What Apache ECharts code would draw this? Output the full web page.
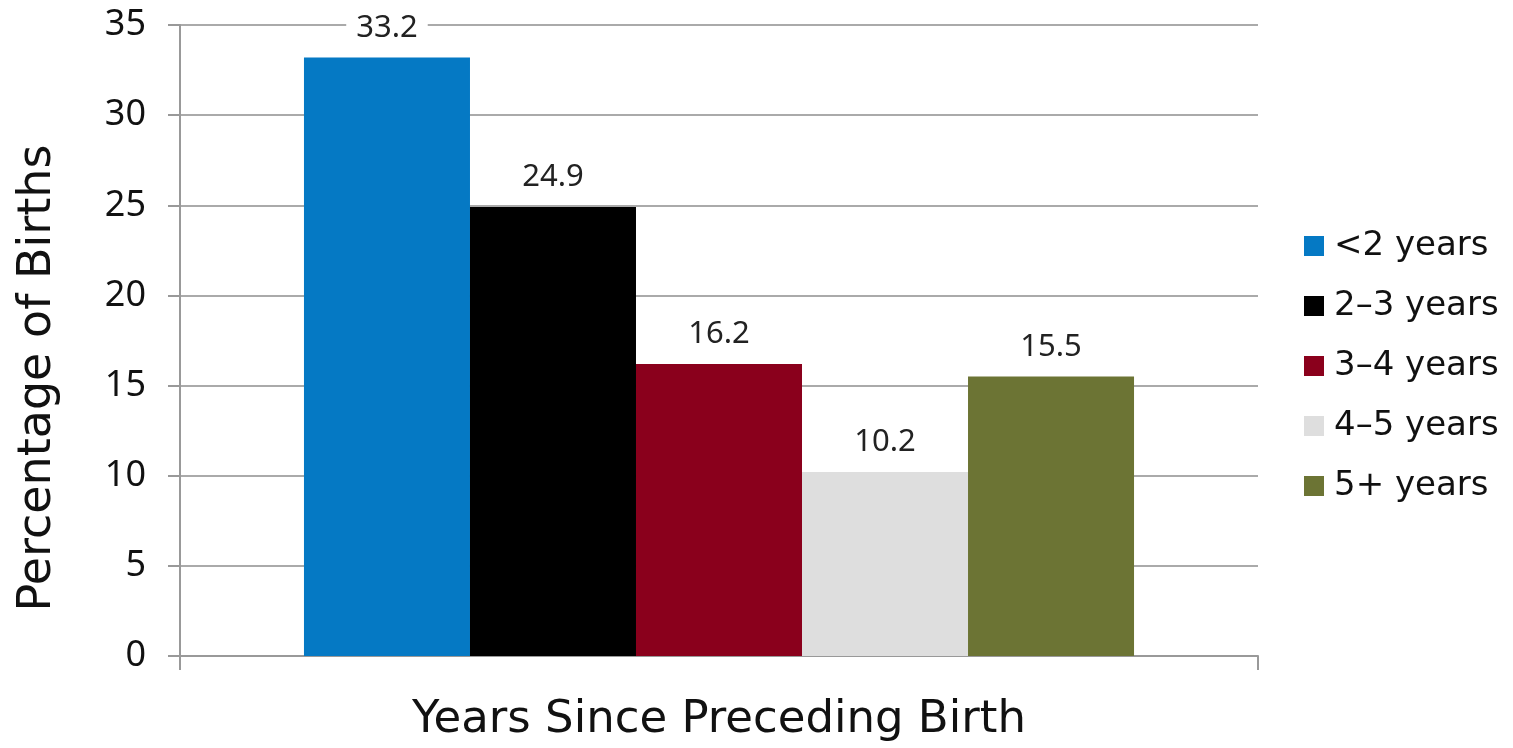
<!DOCTYPE html>
<html>
<head>
<meta charset="utf-8">
<script src="https://cdn.jsdelivr.net/npm/echarts@6/dist/echarts.min.js"></script>
<style>
html, body { margin: 0; padding: 0; background: #fff; }
#main { width: 1513px; height: 748px; }
</style>
</head>
<body>
<div id="main"></div>
<script>
var categories = ['Years Since Preceding Birth'];
var seriesNames = ['<2 years', '2\u20133 years', '3\u20134 years', '4\u20135 years', '5+ years'];
var seriesValues = [33.2, 24.9, 16.2, 10.2, 15.5];
var seriesColors = ['#0579C4', '#000000', '#8A001C', '#DEDEDE', '#6C7434'];

var myChart = echarts.init(document.getElementById('main'));

var series = seriesNames.map(function (name, i) {
	return {
		name: name,
		type: 'bar',
		data: [seriesValues[i]],
		barGap: '0%',
		barCategoryGap: '23%',
		itemStyle: { color: seriesColors[i] },
		label: {
			show: true,
			position: 'top',
			distance: 14,
			color: '#222',
			fontFamily: 'Noto Sans',
			fontSize: 31,
			backgroundColor: '#fff',
			padding: [0, 10]
		}
	};
});

var option = {
	backgroundColor: '#fff',
	animation: false,
	grid: { left: 180, right: 255, top: 25, bottom: 90 },
	legend: {
		orient: 'vertical',
		left: 1299,
		top: 224,
		itemWidth: 20,
		itemHeight: 20,
		itemGap: 26,
		icon: 'rect',
		textStyle: { fontFamily: 'DejaVu Sans', fontSize: 34, lineHeight: 34, color: '#111', padding: [0, 0, 0, 5] },
		data: seriesNames
	},
	xAxis: {
		type: 'category',
		data: categories,
		name: 'Years Since Preceding Birth',
		nameLocation: 'middle',
		nameGap: 42,
		nameTextStyle: { fontFamily: 'DejaVu Sans', fontSize: 45, color: '#111' },
		axisLine: { lineStyle: { color: '#999', width: 2 } },
		axisTick: { show: true, length: 14, lineStyle: { color: '#999', width: 2 } },
		axisLabel: { show: false }
	},
	yAxis: {
		type: 'value',
		min: 0,
		max: 35,
		interval: 5,
		name: 'Percentage of Births',
		nameLocation: 'middle',
		nameGap: 119,
		nameTextStyle: { fontFamily: 'DejaVu Sans', fontSize: 46, color: '#111', padding: [0, 0, 0, -75] },
		axisLine: { show: true, lineStyle: { color: '#999', width: 2 } },
		axisTick: { show: true, length: 12, lineStyle: { color: '#999', width: 2 } },
		axisLabel: { fontFamily: 'Noto Sans', fontSize: 36, color: '#111', margin: 34 },
		splitLine: { lineStyle: { color: '#aaa', width: 2 } }
	},
	series: series
};

myChart.setOption(option);
</script>
</body>
</html>
